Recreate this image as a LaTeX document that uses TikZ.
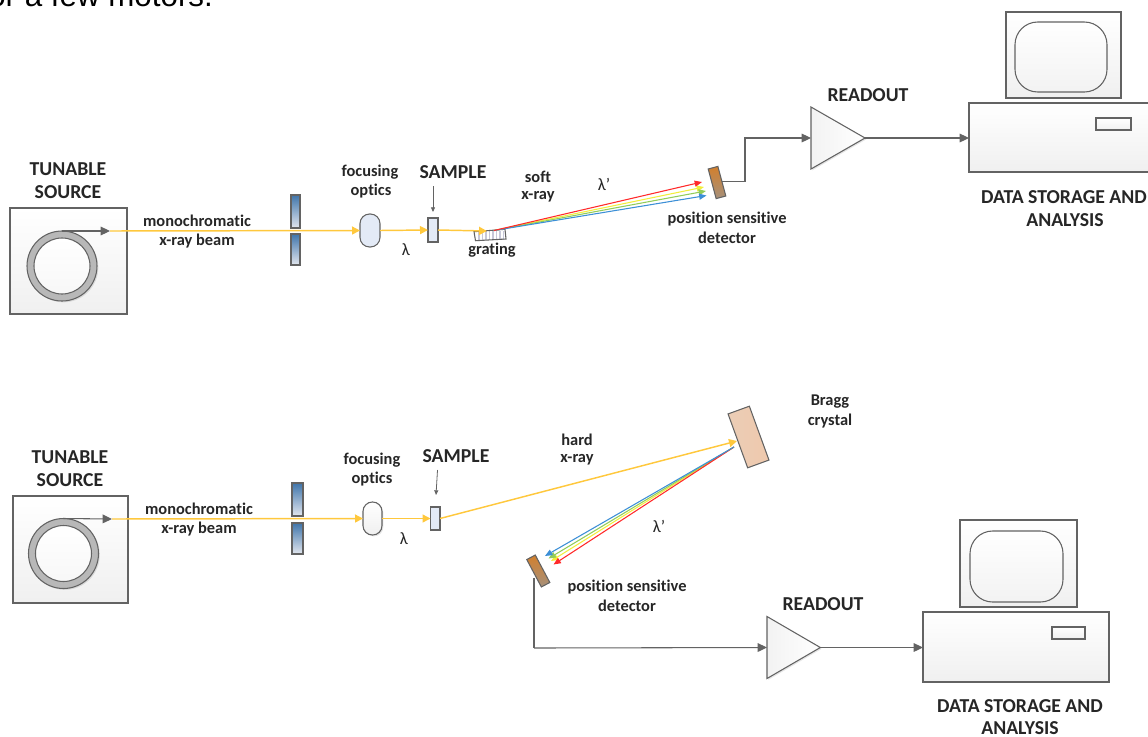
\documentclass[tikz,border=0pt]{standalone}
\usepackage{fontspec}
\setmainfont[Ligatures=NoCommon]{Carlito}
\newfontfamily\topfont{Liberation Sans}
\usetikzlibrary{arrows.meta,shapes.geometric,shadows}
\definecolor{ln}{HTML}{636363}
\definecolor{beam}{HTML}{FFC83D}
\definecolor{txt}{HTML}{262626}
\definecolor{rayr}{HTML}{FF2A2A}
\definecolor{rayy}{HTML}{F2EE3C}
\definecolor{rayg}{HTML}{92CC5A}
\definecolor{rayb}{HTML}{3C8FD6}
\definecolor{paleblue}{HTML}{E3EAF6}
\definecolor{slittop}{HTML}{3F75AB}
\definecolor{slitbot}{HTML}{E2E6EE}
\definecolor{crystalL}{HTML}{EBCDB6}
\definecolor{crystalR}{HTML}{EFC9AD}
\tikzset{
  x=0.75pt,y=-0.75pt,
  softshadow/.style={drop shadow={shadow xshift=1pt,shadow yshift=-1pt,opacity=.1,fill=black}},
  base/.style={inner sep=0pt,outer sep=0pt,draw=ln,line width=0.8pt},
  greybox/.style={base,top color=white,bottom color=black!6,softshadow},
  slit/.style={base,top color=slittop,bottom color=slitbot,softshadow},
  lensbox/.style={base,fill=paleblue,rounded corners=7.2pt},
  lenswhite/.style={base,top color=white,bottom color=black!6,rounded corners=7pt,softshadow},
  samplebox/.style={base,fill=paleblue},
  screenbox/.style={base,top color=white,bottom color=black!5,rounded corners=17pt},
  amp/.style={base,isosceles triangle,isosceles triangle stretches,shape border rotate=0,left color=black!5,right color=white,softshadow},
  detbox/.style={base,top color=brown!70!orange,bottom color=black!45!brown!60,rotate=#1},
  crystal/.style={base,left color=crystalL,right color=crystalR,rotate=#1},
  lab/.style={text=txt,font=\fontsize{12.3}{14}\selectfont\bfseries,inner sep=0pt,align=center},
  biglab/.style={text=txt,font=\fontsize{14.8}{17}\selectfont\bfseries,inner sep=0pt,align=center},
  greek/.style={text=txt,font=\fontsize{13}{15}\selectfont,inner sep=0pt},
  wire/.style={draw=ln,line width=0.8pt,-{Triangle[length=7pt,width=6.5pt]}},
  plainwire/.style={draw=ln,line width=0.8pt},
  thin wire/.style={draw=ln,line width=0.6pt,-{Triangle[length=3.5pt,width=3pt]}},
  ybeam/.style={draw=beam,line width=1.1pt,-{Triangle[length=6pt,width=6pt]}},
  ray/.style={draw=#1,line width=0.8pt,-{Triangle[length=5.5pt,width=4.5pt]}},
}
\newcommand{\RectNode}[6]{\node[#2,minimum width={(#5-#3)*0.75pt},minimum height={(#6-#4)*0.75pt}] (#1) at ({(#3+#5)/2},{(#4+#6)/2}) {};}
\newcommand{\TextAt}[4]{\node[#2] (#1) at (#3) {#4};}
\begin{document}
\begin{tikzpicture}
\useasboundingbox (0,0) rectangle (1148,736);
\begin{scope}
\clip (0,0) rectangle (1148,736);
\node[anchor=base west,inner sep=0pt,font=\fontsize{23.5}{28}\selectfont\topfont,text=black] (topline) at (-12,6) {or a few motors.};

%% TOP
\RectNode{srcA}{greybox}{10}{208}{127}{314}
\node[circle,base,fill=black!28,minimum size=52.5pt,softshadow] (ringAo) at (62,266) {};
\node[circle,base,top color=white,bottom color=black!3,minimum size=42pt] (ringAi) at (62,266) {};
\coordinate (tipA) at (110,231);
\draw[wire] (ringAo.north) -- (tipA);
\RectNode{slitA1}{slit}{291}{195}{300}{228}
\RectNode{slitA2}{slit}{291}{234}{300}{265}
\RectNode{lensA}{lensbox}{360}{214}{380}{247}
\RectNode{sampA}{samplebox}{428}{218}{438}{242}
\draw[ybeam] (tipA) -- (lensA.west);
\draw[ybeam] (lensA.east) -- (sampA.west);
\fill[white] (474,231.7) -- (505,229.3) -- (506,239) -- (475.5,240.7) -- cycle;
\foreach \g in {478,481.5,485,488.5,492,495.5,499,502.5}{\fill[blue!30!black!22] (\g,231) rectangle ++(1.6,9.3);}
\draw[plainwire] (474,231.7) -- (505,229.3) -- (506,239) -- (475.5,240.7) -- cycle;
\coordinate (gratA) at (487,231);
\draw[ybeam] (sampA.east) -- (gratA);
\coordinate (fanA) at (494,230.5);
\coordinate (endA1) at (702,182);
\coordinate (endA2) at (704,187);
\coordinate (endA3) at (706,191);
\coordinate (endA4) at (706.5,195.5);
\draw[ray=rayy] (fanA) -- (endA2);
\draw[ray=rayg] (fanA) -- (endA3);
\draw[ray=rayb] (fanA) -- (endA4);
\draw[ray=rayr] (fanA) -- (endA1);
\node[base,detbox=15,minimum width=7.5pt,minimum height=23pt] (detA) at (717,182.5) {};
\node[amp,minimum height=40.5pt,minimum width=46.5pt,anchor=west] (ampA) at (811,138) {};
\RectNode{pcA}{greybox}{969}{103}{1160}{172}
\RectNode{slotA}{greybox}{1096}{118}{1131}{130}
\RectNode{monA}{greybox}{1006}{12}{1121}{98}
\RectNode{scrA}{screenbox}{1015}{22}{1107}{92}
\coordinate (bendA) at (745,138);
\draw[wire] (detA.east) -| (bendA) -- (ampA.west);
\draw[wire] (ampA.east) -- (pcA.west |- ampA.east);

\TextAt{t1}{biglab}{68,169}{TUNABLE}
\TextAt{t2}{biglab}{68,192}{SOURCE}
\TextAt{t3}{lab}{197,221}{monochromatic}
\TextAt{t4}{lab}{197,241}{x-ray beam}
\TextAt{t5}{lab}{370,172}{focusing}
\TextAt{t6}{lab}{371,191}{optics}
\TextAt{sA}{biglab}{453,172}{SAMPLE}
\coordinate (sAtail) at (433,186);
\draw[thin wire,shorten >=4.5pt] (sAtail) -- (sampA.north);
\TextAt{t7}{greek}{406,250}{λ}
\TextAt{t8}{lab}{492,250}{grating}
\TextAt{t9}{lab}{538,177}{soft}
\TextAt{t10}{lab}{538,197}{x-ray}
\TextAt{t11}{greek}{604,184}{λ’}
\TextAt{t12}{lab}{727,219}{position sensitive}
\TextAt{t13}{lab}{727,238}{detector}
\TextAt{t14}{biglab}{868,95}{READOUT}
\TextAt{t15}{biglab}{1064,197}{DATA STORAGE AND}
\TextAt{t16}{biglab}{1065,220}{ANALYSIS}

%% BOTTOM
\RectNode{srcB}{greybox}{13}{496}{128}{603}
\node[circle,base,fill=black!28,minimum size=52.5pt,softshadow] (ringBo) at (63.5,553.5) {};
\node[circle,base,top color=white,bottom color=black!3,minimum size=42pt] (ringBi) at (63.5,553.5) {};
\coordinate (tipB) at (112,519);
\draw[wire] (ringBo.north) -- (tipB);
\RectNode{slitB1}{slit}{292}{483}{303}{516}
\RectNode{slitB2}{slit}{292}{523}{303}{554}
\RectNode{lensB}{lenswhite}{363}{502}{382}{535}
\RectNode{sampB}{samplebox}{430.5}{507}{440}{530}
\draw[ybeam] (tipB) -- (lensB.west);
\draw[ybeam] (lensB.east) -- (sampB.west);
\node[base,crystal=20,minimum width=17pt,minimum height=43pt] (cryst) at (748.5,437) {};
\coordinate (hitB) at (737,441);
\draw[ybeam] (sampB.east) -- (hitB);
\coordinate (fanB) at (734,447);
\coordinate (endB1) at (545,556);
\coordinate (endB2) at (548.5,558.5);
\coordinate (endB3) at (551,561);
\coordinate (endB4) at (553.5,564.5);
\draw[ray=rayy] (fanB) -- (endB3);
\draw[ray=rayg] (fanB) -- (endB2);
\draw[ray=rayr] (fanB) -- (endB4);
\draw[ray=rayb] (fanB) -- (endB1);
\node[base,detbox=28,minimum width=7.2pt,minimum height=23.3pt] (detB) at (538.3,571) {};
\node[amp,minimum height=40pt,minimum width=46.5pt,anchor=west] (ampB) at (767,647.5) {};
\RectNode{pcB}{greybox}{923}{612}{1109}{682}
\RectNode{slotB}{greybox}{1052}{627}{1085}{639}
\RectNode{monB}{greybox}{960}{520}{1077}{607}
\RectNode{scrB}{screenbox}{970}{531}{1063}{602}
\coordinate (startB) at (534,578);
\coordinate (bendB) at (534,648);
\draw[plainwire] (startB) -- (bendB);
\draw[wire] (bendB) -- (ampB.west);
\draw[wire] (ampB.east) -- (pcB.west |- ampB.east);

\TextAt{b1}{biglab}{70,457}{TUNABLE}
\TextAt{b2}{biglab}{70,480}{SOURCE}
\TextAt{b3}{lab}{199,509}{monochromatic}
\TextAt{b4}{lab}{199,529}{x-ray beam}
\TextAt{b5}{lab}{372,460}{focusing}
\TextAt{b6}{lab}{372,479}{optics}
\TextAt{sB}{biglab}{456,456}{SAMPLE}
\coordinate (sBtail) at (437.5,470);
\coordinate (sBhead) at (436,495);
\draw[thin wire] (sBtail) -- (sBhead);
\TextAt{b7}{greek}{404,539}{λ}
\TextAt{b8}{lab}{577,440}{hard}
\TextAt{b9}{lab}{577,460}{x-ray}
\TextAt{b10}{greek}{659,526}{λ’}
\TextAt{b11}{lab}{627,587}{position sensitive}
\TextAt{b12}{lab}{627,606}{detector}
\TextAt{b13}{lab}{830,402}{Bragg}
\TextAt{b14}{lab}{830,421}{crystal}
\TextAt{b15}{biglab}{823,604}{READOUT}
\TextAt{b16}{biglab}{1020,706}{DATA STORAGE AND}
\TextAt{b17}{biglab}{1020,728}{ANALYSIS}
\end{scope}
\end{tikzpicture}
\end{document}
